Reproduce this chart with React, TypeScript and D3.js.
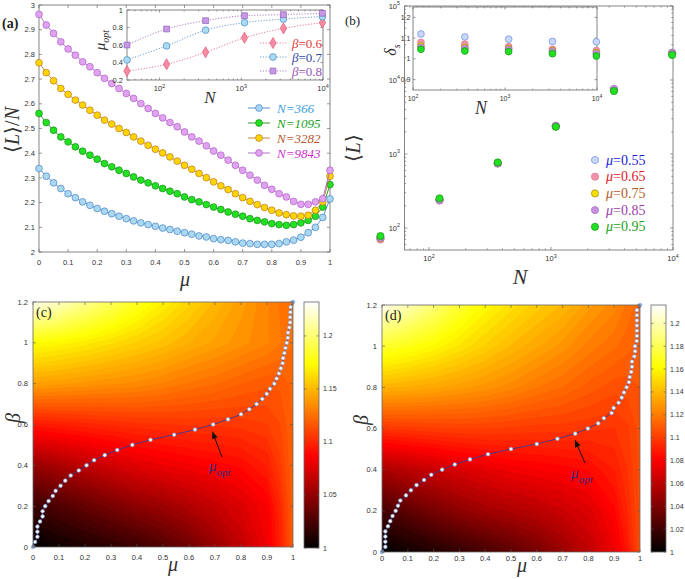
import * as d3 from 'd3';
import { useEffect, useRef } from 'react';

const SANS = 'Liberation Sans, Arial, Helvetica, sans-serif';
const SERIF = 'Liberation Serif, Times New Roman, serif';
const TICK = '#333';

// ---------- (a) <L>/N against mu ----------
const muA = [0, 0.025, 0.05, 0.075, 0.1, 0.125, 0.15, 0.175, 0.2, 0.225, 0.25, 0.275, 0.3, 0.325, 0.35, 0.375, 0.4, 0.425, 0.45, 0.475, 0.5, 0.525, 0.55, 0.575, 0.6, 0.625, 0.65, 0.675, 0.7, 0.725, 0.75, 0.775, 0.8, 0.825, 0.85, 0.875, 0.9, 0.925, 0.95, 0.975, 1];
const L366 = [2.338, 2.307, 2.28, 2.257, 2.236, 2.22, 2.203, 2.189, 2.176, 2.165, 2.155, 2.145, 2.135, 2.126, 2.118, 2.111, 2.104, 2.097, 2.091, 2.084, 2.078, 2.072, 2.065, 2.061, 2.054, 2.05, 2.047, 2.041, 2.036, 2.034, 2.031, 2.031, 2.031, 2.034, 2.041, 2.048, 2.06, 2.078, 2.1, 2.14, 2.215];
const L1095 = [2.561, 2.524, 2.493, 2.466, 2.446, 2.426, 2.408, 2.392, 2.376, 2.358, 2.345, 2.331, 2.318, 2.304, 2.291, 2.28, 2.268, 2.257, 2.246, 2.236, 2.223, 2.212, 2.203, 2.192, 2.182, 2.172, 2.162, 2.153, 2.145, 2.135, 2.128, 2.122, 2.115, 2.111, 2.108, 2.111, 2.118, 2.128, 2.145, 2.182, 2.273];
const L3282 = [2.766, 2.726, 2.693, 2.662, 2.638, 2.615, 2.595, 2.574, 2.554, 2.534, 2.518, 2.5, 2.484, 2.466, 2.449, 2.432, 2.416, 2.401, 2.385, 2.368, 2.351, 2.335, 2.318, 2.301, 2.284, 2.268, 2.253, 2.236, 2.22, 2.205, 2.192, 2.18, 2.169, 2.158, 2.151, 2.146, 2.145, 2.149, 2.169, 2.203, 2.307];
const L9843 = [2.962, 2.919, 2.885, 2.851, 2.822, 2.797, 2.77, 2.75, 2.726, 2.703, 2.682, 2.662, 2.642, 2.622, 2.601, 2.581, 2.561, 2.543, 2.524, 2.507, 2.486, 2.466, 2.449, 2.43, 2.409, 2.392, 2.372, 2.351, 2.331, 2.311, 2.291, 2.27, 2.254, 2.236, 2.223, 2.205, 2.193, 2.193, 2.203, 2.216, 2.331];
const namesA = ['N=366', 'N=1095', 'N=3282', 'N=9843'];

// (a) inset: mu_opt against N
const nInset = [40, 122, 366, 1095, 3282, 9843];
const opt06 = [0.303, 0.38, 0.517, 0.683, 0.79, 0.855];
const opt07 = [0.43, 0.59, 0.77, 0.855, 0.897, 0.924];
const opt08 = [0.6, 0.783, 0.878, 0.935, 0.947, 0.962];
const betaNames = ['0.6', '0.7', '0.8'];

// ---------- (b) <L> against N ----------
const nB = [40, 122, 366, 1095, 3282, 9843];
const L055 = [72, 240, 750, 2400, 7500, 23500];
const L065 = [70, 235, 745, 2380, 7400, 23200];
const L075 = [73, 240, 748, 2350, 7300, 22800];
const L085 = [74, 238, 745, 2400, 7600, 23000];
const L095 = [78, 252, 770, 2330, 7100, 21800];
const muNames = ['0.55', '0.65', '0.75', '0.85', '0.95'];

// (b) inset: delta_s against N
const nBInset = [122, 366, 1095, 3282, 9843];
const d055 = [1.12, 1.106, 1.095, 1.084, 1.082];
const d065 = [1.079, 1.071, 1.059, 1.046, 1.04];
const d075 = [1.062, 1.056, 1.05, 1.04, 1.03];
const d085 = [1.055, 1.05, 1.045, 1.035, 1.025];
const d095 = [1.046, 1.038, 1.035, 1.025, 1.014];

// ---------- (c), (d) maps over (mu, beta) ----------
const muGrid = [0, 0.1, 0.2, 0.3, 0.4, 0.5, 0.6, 0.7, 0.8, 0.9, 0.95, 1];
const betaGrid = [0, 0.2, 0.4, 0.6, 0.8, 1.0, 1.2];
const fieldC = [
  [1.0, 1.005, 1.01, 1.015, 1.02, 1.028, 1.038, 1.051, 1.065, 1.082, 1.097, 1.118],
  [1.02, 1.027, 1.034, 1.041, 1.048, 1.053, 1.06, 1.067, 1.075, 1.085, 1.1, 1.12],
  [1.051, 1.058, 1.065, 1.071, 1.077, 1.081, 1.084, 1.087, 1.09, 1.097, 1.107, 1.12],
  [1.095, 1.097, 1.099, 1.101, 1.103, 1.104, 1.105, 1.105, 1.106, 1.108, 1.112, 1.12],
  [1.142, 1.14, 1.138, 1.136, 1.134, 1.131, 1.127, 1.124, 1.12, 1.117, 1.117, 1.121],
  [1.175, 1.172, 1.168, 1.163, 1.158, 1.153, 1.147, 1.142, 1.137, 1.132, 1.128, 1.124],
  [1.228, 1.218, 1.206, 1.195, 1.182, 1.17, 1.16, 1.15, 1.141, 1.132, 1.127, 1.124],
];
const fieldD = [
  [1.0, 1.005, 1.01, 1.016, 1.022, 1.029, 1.037, 1.048, 1.06, 1.075, 1.087, 1.106],
  [1.022, 1.03, 1.038, 1.045, 1.051, 1.055, 1.059, 1.064, 1.07, 1.082, 1.093, 1.106],
  [1.054, 1.059, 1.064, 1.069, 1.073, 1.077, 1.079, 1.081, 1.083, 1.09, 1.097, 1.106],
  [1.098, 1.099, 1.1, 1.101, 1.101, 1.1, 1.099, 1.099, 1.098, 1.097, 1.1, 1.106],
  [1.138, 1.136, 1.134, 1.131, 1.128, 1.124, 1.119, 1.115, 1.11, 1.106, 1.106, 1.108],
  [1.172, 1.167, 1.161, 1.154, 1.147, 1.14, 1.134, 1.128, 1.121, 1.116, 1.113, 1.11],
  [1.212, 1.2, 1.187, 1.173, 1.161, 1.153, 1.146, 1.14, 1.131, 1.124, 1.118, 1.113],
];
const betaOpt = [0, 0.025, 0.05, 0.075, 0.1, 0.125, 0.15, 0.175, 0.2, 0.225, 0.25, 0.275, 0.3, 0.325, 0.35, 0.375, 0.4, 0.425, 0.45, 0.475, 0.5, 0.525, 0.55, 0.575, 0.6, 0.625, 0.65, 0.675, 0.7, 0.725, 0.75, 0.775, 0.8, 0.825, 0.85, 0.875, 0.9, 0.925, 0.95, 0.975, 1, 1.025, 1.05, 1.075, 1.1, 1.125, 1.15, 1.175, 1.2];
const optC = [0, 0.008, 0.017, 0.017, 0.017, 0.027, 0.037, 0.037, 0.047, 0.06, 0.076, 0.087, 0.106, 0.124, 0.145, 0.176, 0.206, 0.235, 0.276, 0.324, 0.382, 0.452, 0.543, 0.623, 0.693, 0.75, 0.8, 0.832, 0.86, 0.882, 0.899, 0.912, 0.928, 0.937, 0.946, 0.953, 0.96, 0.962, 0.967, 0.971, 0.976, 0.98, 0.981, 0.986, 0.989, 0.989, 0.99, 0.991, 1.0];
const optD = [0, 0.013, 0.013, 0.013, 0.013, 0.023, 0.032, 0.041, 0.053, 0.062, 0.071, 0.093, 0.112, 0.134, 0.163, 0.191, 0.233, 0.282, 0.341, 0.411, 0.5, 0.6, 0.68, 0.749, 0.798, 0.838, 0.86, 0.89, 0.898, 0.917, 0.929, 0.938, 0.948, 0.957, 0.96, 0.966, 0.969, 0.969, 0.978, 0.981, 0.981, 0.987, 0.988, 0.988, 0.988, 0.988, 0.988, 0.988, 1.0];

const styleA = [
  { fill: '#a8d9f1', stroke: '#4d83c4', text: '#3a9ee0' },
  { fill: '#22e022', stroke: '#1a8c1a', text: '#22a022' },
  { fill: '#ffd500', stroke: '#b97a2a', text: '#b4562c' },
  { fill: '#e2a2f2', stroke: '#aa62c2', text: '#cc33cc' },
];
const styleInset = [
  { fill: '#f58aa0', stroke: '#e0607e', text: '#e03838', shape: d3.symbolDiamond, size: 36 },
  { fill: '#a8dcf2', stroke: '#4d88c4', text: '#3646a8', shape: d3.symbolCircle, size: 36 },
  { fill: '#c898e6', stroke: '#9462b8', text: '#9a52b8', shape: d3.symbolSquare, size: 34 },
];
const styleB = [
  { fill: '#c8d6f8', stroke: '#7090e0', text: '#1e22d8' },
  { fill: '#f294aa', stroke: '#e07090', text: '#e02028' },
  { fill: '#f2e000', stroke: '#a88420', text: '#b25a26' },
  { fill: '#c892e2', stroke: '#a070c0', text: '#9a3ea8' },
  { fill: '#22e022', stroke: '#169016', text: '#22a022' },
];

const fmt = (v: number) => String(+v.toFixed(2));

function hot(t: number): string {
  const c = (v: number) => Math.max(0, Math.min(1, v));
  return d3.rgb(255 * c(t / 0.375), 255 * c((t - 0.375) / 0.375), 255 * c((t - 0.75) / 0.25)).formatHex();
}

function label(g: any, x: number, y: number, s: string, anchor: string, size: number) {
  g.append('text').attr('x', x).attr('y', y).attr('text-anchor', anchor)
    .attr('font-family', SANS).attr('font-size', size).attr('fill', TICK).text(s);
}

function powText(g: any, x: number, y: number, e: number, anchor: string, size: number) {
  const t = g.append('text').attr('x', x).attr('y', y).attr('text-anchor', anchor)
    .attr('font-family', SANS).attr('font-size', size).attr('fill', TICK);
  t.append('tspan').text('10');
  t.append('tspan').attr('dy', -size * 0.45).attr('font-size', size * 0.72).text(String(e));
}

function minorLog(domain: number[]) {
  const out: number[] = [];
  const lo = Math.floor(Math.log10(domain[0]));
  const hi = Math.ceil(Math.log10(domain[1]));
  for (let e = lo; e < hi; e++) {
    for (let m = 2; m <= 9; m++) {
      const v = m * Math.pow(10, e);
      if (v > domain[0] && v < domain[1]) out.push(v);
    }
  }
  return out;
}

// box with inward ticks on all four sides (matlab style)
function frame(g: any, x: any, y: any, xt: number[], yt: number[], o: any) {
  const len = o.len ?? 3;
  const size = o.size ?? 7.5;
  const [xa, xb] = x.range();
  const [ya, yb] = y.range();
  const tk = g.append('g').attr('stroke', '#555').attr('stroke-width', 0.6);
  const xTick = (px: number, l: number) => {
    tk.append('line').attr('x1', px).attr('x2', px).attr('y1', ya).attr('y2', ya - l);
    tk.append('line').attr('x1', px).attr('x2', px).attr('y1', yb).attr('y2', yb + l);
  };
  const yTick = (py: number, l: number) => {
    tk.append('line').attr('y1', py).attr('y2', py).attr('x1', xa).attr('x2', xa + l);
    tk.append('line').attr('y1', py).attr('y2', py).attr('x1', xb).attr('x2', xb - l);
  };
  xt.forEach((v) => {
    const px = x(v);
    xTick(px, len);
    if (o.xLog) powText(g, px, o.xLabY, Math.round(Math.log10(v)), 'middle', size);
    else label(g, px, o.xLabY, fmt(v), 'middle', size);
  });
  yt.forEach((v) => {
    const py = y(v);
    yTick(py, len);
    if (o.yLog) powText(g, o.yLabX, py + size * 0.35, Math.round(Math.log10(v)), 'end', size);
    else label(g, o.yLabX, py + size * 0.35, fmt(v), 'end', size);
  });
  if (o.xLog) minorLog(x.domain()).forEach((v) => xTick(x(v), len * 0.55));
  if (o.yLog) minorLog(y.domain()).forEach((v) => yTick(y(v), len * 0.55));
  g.append('rect').attr('x', xa).attr('y', yb).attr('width', xb - xa).attr('height', ya - yb)
    .attr('fill', 'none').attr('stroke', '#666').attr('stroke-width', 0.8);
}

function panelA(svg: any) {
  const g = svg.append('g');
  const x = d3.scaleLinear([0, 1], [39, 330]);
  const y = d3.scaleLinear([2, 3], [252, 5]);
  frame(g, x, y, x.ticks(10), y.ticks(10), { xLabY: 265, yLabX: 35 });

  const series = [L366, L1095, L3282, L9843];
  series.forEach((vals, k) => {
    const st = styleA[k];
    const pts = muA.map((m, i) => [x(m), y(vals[i])] as [number, number]);
    g.append('path').attr('d', d3.line()(pts)).attr('fill', 'none').attr('stroke', st.stroke).attr('stroke-width', 0.9);
    g.append('g').selectAll('circle').data(pts).join('circle')
      .attr('cx', (d: any) => d[0]).attr('cy', (d: any) => d[1]).attr('r', 3.4)
      .attr('fill', st.fill).attr('stroke', st.stroke).attr('stroke-width', 0.7);
  });

  // legend
  namesA.forEach((name, k) => {
    const st = styleA[k];
    const ly = 108 + k * 15;
    g.append('line').attr('x1', 248).attr('x2', 270).attr('y1', ly).attr('y2', ly).attr('stroke', st.stroke).attr('stroke-width', 0.9);
    g.append('circle').attr('cx', 259).attr('cy', ly).attr('r', 3.4).attr('fill', st.fill).attr('stroke', st.stroke).attr('stroke-width', 0.7);
    g.append('text').attr('x', 277).attr('y', ly + 4.5).attr('font-family', SERIF).attr('font-style', 'italic')
      .attr('font-size', 13).attr('fill', st.text).text(name);
  });

  // axis titles
  g.append('text').attr('x', 185).attr('y', 286).attr('text-anchor', 'middle').attr('font-family', SERIF)
    .attr('font-style', 'italic').attr('font-size', 20).attr('fill', '#333').text('μ');
  const yl = g.append('text').attr('transform', 'translate(19,130) rotate(-90)').attr('text-anchor', 'middle')
    .attr('font-family', SERIF).attr('font-size', 20).attr('fill', '#333');
  yl.append('tspan').text('⟨');
  yl.append('tspan').attr('font-style', 'italic').text('L');
  yl.append('tspan').text('⟩/');
  yl.append('tspan').attr('font-style', 'italic').text('N');
  g.append('text').attr('x', 2).attr('y', 28).attr('font-family', SERIF).attr('font-weight', 'bold')
    .attr('font-size', 14).attr('fill', '#222').text('(a)');

  // inset
  const xi = d3.scaleLog([40, 1e4], [127, 323]);
  const yi = d3.scaleLinear([0.2, 1], [80, 10]);
  g.append('rect').attr('x', 127).attr('y', 10).attr('width', 196).attr('height', 70).attr('fill', '#fff');
  frame(g, xi, yi, [1e2, 1e3, 1e4], yi.ticks(4), { xLabY: 91, yLabX: 123, xLog: true, len: 2.5 });
  [opt06, opt07, opt08].forEach((vals, k) => {
    const st = styleInset[k];
    const pts = nInset.map((n, i) => [xi(n), yi(vals[i])] as [number, number]);
    g.append('path').attr('d', d3.line().curve(d3.curveMonotoneX)(pts)).attr('fill', 'none')
      .attr('stroke', st.stroke).attr('stroke-width', 0.8).attr('stroke-dasharray', '1.2,1.6');
    const sym = d3.symbol(st.shape, st.size);
    g.append('g').selectAll('path').data(pts).join('path').attr('d', sym)
      .attr('transform', (d: any) => `translate(${d[0]},${d[1]})`)
      .attr('fill', st.fill).attr('stroke', st.stroke).attr('stroke-width', 0.7);
  });
  betaNames.forEach((b, k) => {
    const st = styleInset[k];
    const ly = 43 + k * 14;
    g.append('line').attr('x1', 260).attr('x2', 287).attr('y1', ly).attr('y2', ly).attr('stroke', st.stroke)
      .attr('stroke-width', 0.8).attr('stroke-dasharray', '1.2,1.6');
    g.append('path').attr('d', d3.symbol(st.shape, st.size)).attr('transform', `translate(273,${ly})`)
      .attr('fill', st.fill).attr('stroke', st.stroke).attr('stroke-width', 0.7);
    const t = g.append('text').attr('x', 292).attr('y', ly + 4.5).attr('font-family', SERIF).attr('font-size', 13).attr('fill', st.text);
    t.append('tspan').attr('font-style', 'italic').text('β');
    t.append('tspan').text('=' + b);
  });
  const il = g.append('text').attr('transform', 'translate(105,40) rotate(-90)').attr('text-anchor', 'middle')
    .attr('font-family', SERIF).attr('font-style', 'italic').attr('font-size', 15).attr('fill', '#333');
  il.append('tspan').text('μ');
  il.append('tspan').attr('dy', 4).attr('font-size', 10).text('opt');
  g.append('text').attr('x', 210).attr('y', 103).attr('text-anchor', 'middle').attr('font-family', SERIF)
    .attr('font-style', 'italic').attr('font-size', 17).attr('fill', '#333').text('N');
}

function panelB(svg: any) {
  const g = svg.append('g');
  const x = d3.scaleLog([63, 1e4], [404.5, 673]);
  const y = d3.scaleLog([50.5, 1e5], [250, 6]);
  frame(g, x, y, [1e2, 1e3, 1e4], [1e2, 1e3, 1e4, 1e5], { xLabY: 261, yLabX: 400, xLog: true, yLog: true });

  [L055, L065, L075, L085, L095].forEach((vals, k) => {
    const st = styleB[k];
    g.append('g').selectAll('circle').data(nB).join('circle')
      .attr('cx', (n: number) => x(n)).attr('cy', (_: number, i: number) => y(vals[i])).attr('r', 3.6)
      .attr('fill', st.fill).attr('stroke', st.stroke).attr('stroke-width', 0.7);
  });

  muNames.forEach((m, k) => {
    const st = styleB[k];
    const ly = 160 + k * 16.7;
    g.append('circle').attr('cx', 595).attr('cy', ly).attr('r', 3.6).attr('fill', st.fill).attr('stroke', st.stroke).attr('stroke-width', 0.7);
    const t = g.append('text').attr('x', 606).attr('y', ly + 4.5).attr('font-family', SERIF).attr('font-size', 14).attr('fill', st.text);
    t.append('tspan').attr('font-style', 'italic').text('μ');
    t.append('tspan').text('=' + m);
  });

  g.append('text').attr('x', 520).attr('y', 284).attr('text-anchor', 'middle').attr('font-family', SERIF)
    .attr('font-style', 'italic').attr('font-size', 22).attr('fill', '#333').text('N');
  const yl = g.append('text').attr('transform', 'translate(360,148) rotate(-90)').attr('text-anchor', 'middle')
    .attr('font-family', SERIF).attr('font-size', 20).attr('fill', '#333');
  yl.append('tspan').text('⟨');
  yl.append('tspan').attr('font-style', 'italic').text('L');
  yl.append('tspan').text('⟩');
  g.append('text').attr('x', 345).attr('y', 25).attr('font-family', SERIF)
    .attr('font-size', 13).attr('fill', '#222').text('(b)');

  // inset
  const xi = d3.scaleLog([100, 1e4], [413, 597]);
  const yi = d3.scaleLinear([0.85, 1.25], [90, 7]);
  g.append('rect').attr('x', 413).attr('y', 7).attr('width', 184).attr('height', 83).attr('fill', '#fff');
  frame(g, xi, yi, [1e2, 1e3, 1e4], [0.9, 1, 1.1, 1.2], { xLabY: 101, yLabX: 410.5, xLog: true, len: 2.5, size: 7 });
  [d055, d065, d075, d085, d095].forEach((vals, k) => {
    const st = styleB[k];
    g.append('g').selectAll('circle').data(nBInset).join('circle')
      .attr('cx', (n: number) => xi(n)).attr('cy', (_: number, i: number) => yi(vals[i])).attr('r', 3.4)
      .attr('fill', st.fill).attr('stroke', st.stroke).attr('stroke-width', 0.7);
  });
  const dl = g.append('text').attr('transform', 'translate(396,50) rotate(-90)').attr('text-anchor', 'middle')
    .attr('font-family', SERIF).attr('font-style', 'italic').attr('font-size', 16).attr('fill', '#333');
  dl.append('tspan').text('δ');
  dl.append('tspan').attr('dy', 4).attr('font-size', 10).text('s');
  g.append('text').attr('x', 481).attr('y', 114).attr('text-anchor', 'middle').attr('font-family', SERIF)
    .attr('font-style', 'italic').attr('font-size', 18).attr('fill', '#333').text('N');
}

function panelHeat(svg: any, o: any) {
  const g = svg.append('g');
  const x = d3.scaleLinear([0, 1], o.xr);
  const y = d3.scaleLinear([0, 1.2], o.yr);
  const [xa, xb] = o.xr;
  const [ya, yb] = o.yr;

  g.append('clipPath').attr('id', o.id).append('rect')
    .attr('x', xa).attr('y', yb).attr('width', xb - xa).attr('height', ya - yb);

  const span = o.cbMax - 1;
  const step = span / 60;
  const levels = d3.range(1, o.cbMax, step);
  const contours = d3.contours().size([muGrid.length, betaGrid.length]).thresholds(levels)(o.field.flat());
  const ix = d3.scaleLinear().domain(d3.range(muGrid.length)).range(muGrid);
  const iy = d3.scaleLinear().domain(d3.range(betaGrid.length)).range(betaGrid);
  const proj = d3.geoTransform({
    point(px: number, py: number) {
      (this as any).stream.point(x(ix(px - 0.5)), y(iy(py - 0.5)));
    },
  });
  const path = d3.geoPath(proj);
  g.append('g').attr('clip-path', `url(#${o.id})`).selectAll('path').data(contours).join('path')
    .attr('d', path as any).attr('fill', (c: any) => hot((c.value + step / 2 - 1) / span));

  // optimal mu curve
  const pts = betaOpt.map((b, i) => [x(o.opt[i]), y(b)] as [number, number]);
  g.append('path').attr('d', d3.line()(pts)).attr('fill', 'none').attr('stroke', '#3a3a92').attr('stroke-width', 0.9);
  g.append('g').selectAll('circle').data(pts).join('circle')
    .attr('cx', (d: any) => d[0]).attr('cy', (d: any) => d[1]).attr('r', 1.8)
    .attr('fill', (_: any, i: number) => (i === 0 || i === pts.length - 1 ? '#8fb4ea' : '#fff'))
    .attr('stroke', '#7fa3dc').attr('stroke-width', 0.7);

  frame(g, x, y, x.ticks(10), y.ticks(6), { xLabY: o.xLabY, yLabX: xa - 5 });

  // arrow and label
  const [tx, ty] = [x(o.tip[0]), y(o.tip[1])];
  const [sx, sy] = [x(o.tail[0]), y(o.tail[1])];
  g.append('line').attr('x1', sx).attr('y1', sy).attr('x2', tx).attr('y2', ty).attr('stroke', '#111').attr('stroke-width', 1);
  const a = Math.atan2(ty - sy, tx - sx);
  const L = 7;
  const W = 3;
  const head = [
    [tx, ty],
    [tx - L * Math.cos(a) + W * Math.sin(a), ty - L * Math.sin(a) - W * Math.cos(a)],
    [tx - L * Math.cos(a) - W * Math.sin(a), ty - L * Math.sin(a) + W * Math.cos(a)],
  ];
  g.append('path').attr('d', 'M' + head.join('L') + 'Z').attr('fill', '#111');
  const ml = g.append('text').attr('x', x(o.lab[0])).attr('y', y(o.lab[1])).attr('font-family', SERIF)
    .attr('font-style', 'italic').attr('font-size', 15).attr('fill', '#3a2a80');
  ml.append('tspan').text('μ');
  ml.append('tspan').attr('dy', 5).attr('font-size', 11).text('opt');

  // colorbar
  const cy = d3.scaleLinear([1, o.cbMax], [ya + o.cbDy, yb]);
  const [ca, cb] = cy.range();
  g.append('rect').attr('x', o.cbX).attr('y', cb).attr('width', 15).attr('height', ca - cb).attr('fill', 'url(#hotGrad)')
    .attr('stroke', '#666').attr('stroke-width', 0.8);
  o.cbTicks.forEach((v: number) => {
    const py = cy(v);
    g.append('line').attr('x1', o.cbX + 15).attr('x2', o.cbX + 12.5).attr('y1', py).attr('y2', py).attr('stroke', '#555').attr('stroke-width', 0.6);
    g.append('line').attr('x1', o.cbX).attr('x2', o.cbX + 2.5).attr('y1', py).attr('y2', py).attr('stroke', '#555').attr('stroke-width', 0.6);
    label(g, o.cbX + 19, py + 2.5, fmt(v), 'start', 7);
  });

  // titles
  g.append('text').attr('x', o.muLab[0]).attr('y', o.muLab[1]).attr('text-anchor', 'middle').attr('font-family', SERIF)
    .attr('font-style', 'italic').attr('font-size', 20).attr('fill', '#333').text('μ');
  g.append('text').attr('transform', `translate(${o.betaLab[0]},${o.betaLab[1]}) rotate(-90)`).attr('text-anchor', 'middle')
    .attr('font-family', SERIF).attr('font-style', 'italic').attr('font-size', 20).attr('fill', '#333').text('β');
  g.append('text').attr('x', xa + 3).attr('y', yb + 15).attr('font-family', SERIF)
    .attr('font-size', 14).attr('fill', '#222').text(o.tag);
}

export default function App() {
  const ref = useRef<SVGSVGElement>(null);

  useEffect(() => {
    if (!ref.current) return;
    const svg = d3.select(ref.current);
    svg.selectAll('*').remove();

    const grad = svg.append('defs').append('linearGradient').attr('id', 'hotGrad')
      .attr('x1', 0).attr('y1', 1).attr('x2', 0).attr('y2', 0);
    [0, 0.375, 0.75, 1].forEach((t) => grad.append('stop').attr('offset', t).attr('stop-color', hot(t)));

    panelA(svg);
    panelB(svg);
    panelHeat(svg, {
      id: 'clipC', field: fieldC, opt: optC, xr: [33, 293], yr: [547, 302], cbX: 304, cbMax: 1.232, cbDy: 1,
      cbTicks: [1, 1.05, 1.1, 1.15, 1.2], tip: [0.69, 0.565], tail: [0.727, 0.44], lab: [0.677, 0.37],
      xLabY: 560, muLab: [173, 571], betaLab: [20, 418], tag: '(c)',
    });
    panelHeat(svg, {
      id: 'clipD', field: fieldD, opt: optD, xr: [382, 640], yr: [552, 305], cbX: 651, cbMax: 1.216, cbDy: 0,
      cbTicks: [1, 1.02, 1.04, 1.06, 1.08, 1.1, 1.12, 1.14, 1.16, 1.18, 1.2], tip: [0.748, 0.544], tail: [0.787, 0.432],
      lab: [0.733, 0.36], xLabY: 561, muLab: [522, 572], betaLab: [368, 420], tag: '(d)',
    });
  }, []);

  return (
    <svg ref={ref} width={685} height={579} style={{ position: 'absolute', left: 0, top: 0, background: '#fff' }} />
  );
}
